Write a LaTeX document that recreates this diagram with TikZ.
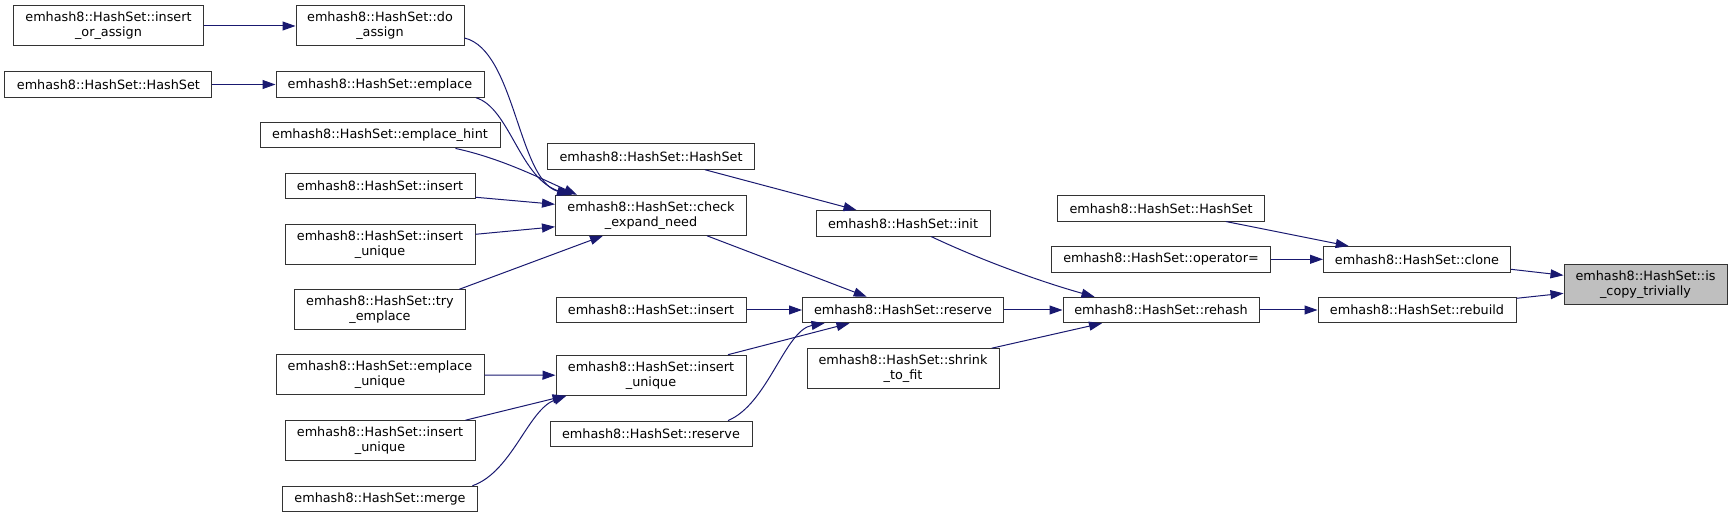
\documentclass[tikz,border=0pt]{standalone}
\usepackage{fontspec}
\setmainfont{DejaVu Sans}
\usepackage{tikz}
\usetikzlibrary{arrows.meta, positioning}
\definecolor{edgeblue}{RGB}{25,25,112}
\definecolor{rootgray}{RGB}{191,191,191}

\begin{document}
\begin{tikzpicture}[
    x=1pt, y=-1pt,
    func/.style={draw=black!80, line width=1pt, rectangle, fill=white, inner sep=0pt, minimum height=25.5pt, align=center, font=\fontsize{12.8}{15}\selectfont},
    func2/.style={func, minimum height=40pt},
    rootfunc/.style={func2, fill=rootgray},
    call/.style={draw=edgeblue, line width=1pt, -{Triangle[length=13pt, width=9pt]}}
]
    \useasboundingbox (0,0) rectangle (1732,518);

    % ================= FIRST COLUMN =================
    \node[func2, minimum width=190pt] (INSOA) at (108.5, 26) {emhash8::HashSet::insert\\\_or\_assign};
    \node[func, minimum width=207pt] (HSA) at (108.4, 84.5) {emhash8::HashSet::HashSet};

    % ================= SECOND COLUMN =================
    \node[func2, minimum width=168pt] (DOASG) at (380, 26) {emhash8::HashSet::do\\\_assign};
    \node[func, minimum width=208pt] (EMPL) at (380, 84.5) {emhash8::HashSet::emplace};
    \node[func, minimum width=240pt] (EMPLH) at (380, 135.2) {emhash8::HashSet::emplace\_hint};
    \node[func, minimum width=190pt] (INSA) at (380, 186) {emhash8::HashSet::insert};
    \node[func2, minimum width=190pt] (INSUA) at (380, 244.3) {emhash8::HashSet::insert\\\_unique};
    \node[func2, minimum width=170.5pt] (TRYEMP) at (380, 309.8) {emhash8::HashSet::try\\\_emplace};
    \node[func2, minimum width=208pt] (EMPLU) at (380, 375) {emhash8::HashSet::emplace\\\_unique};
    \node[func2, minimum width=190pt] (INSUB) at (380, 440.7) {emhash8::HashSet::insert\\\_unique};
    \node[func, minimum width=195pt] (MERGE) at (380, 499) {emhash8::HashSet::merge};

    % ================= THIRD COLUMN =================
    \node[func, minimum width=207pt] (HSB) at (651, 156.5) {emhash8::HashSet::HashSet};
    \node[func2, minimum width=191pt] (CHECK) at (651, 215.3) {emhash8::HashSet::check\\\_expand\_need};
    \node[func, minimum width=190pt] (INSB) at (651, 310) {emhash8::HashSet::insert};
    \node[func2, minimum width=190pt] (INSUC) at (651, 375.2) {emhash8::HashSet::insert\\\_unique};
    \node[func, minimum width=202pt] (RESB) at (651, 433.8) {emhash8::HashSet::reserve};

    % ================= FOURTH COLUMN =================
    \node[func, minimum width=174pt] (INIT) at (903, 223.3) {emhash8::HashSet::init};
    \node[func, minimum width=201pt] (RESA) at (903, 310) {emhash8::HashSet::reserve};
    \node[func2, minimum width=192pt] (SHRINK) at (903, 368.7) {emhash8::HashSet::shrink\\\_to\_fit};

    % ================= FIFTH COLUMN =================
    \node[func, minimum width=207pt] (HSC) at (1161, 208.3) {emhash8::HashSet::HashSet};
    \node[func, minimum width=219pt] (OPASG) at (1161, 259.3) {emhash8::HashSet::operator=};
    \node[func, minimum width=196pt] (REHASH) at (1161, 310) {emhash8::HashSet::rehash};

    % ================= SIXTH COLUMN =================
    \node[func, minimum width=187pt] (CLONE) at (1417, 259.3) {emhash8::HashSet::clone};
    \node[func, minimum width=198pt] (REBUILD) at (1417, 310) {emhash8::HashSet::rebuild};

    % ================= ROOT =================
    \node[rootfunc, minimum width=163pt] (COPYTRIV) at (1645.5, 284.3) {emhash8::HashSet::is\\\_copy\_trivially};

    % ================= CALLS =================

    % into do_assign and emplace
    \draw[call] (INSOA.east) -- (DOASG.west);
    \draw[call] (HSA.east) -- (EMPL.west);

    % into check_expand_need
    \draw[call] ([yshift=-12pt]DOASG.east) .. controls (515,50) and (518,180) .. ([xshift=15pt]CHECK.north west);
    \draw[call] ([xshift=-8.5pt]EMPL.south east) .. controls (510,108) and (520,180) .. ([xshift=17pt]CHECK.north west);
    \draw[call] ([xshift=-45pt]EMPLH.south east) .. controls (500,158) and (540,178) .. ([xshift=22pt]CHECK.north west);
    \draw[call] ([yshift=2pt]INSA.south east) -- ([yshift=11pt]CHECK.west);
    \draw[call] ([yshift=10pt]INSUA.east) -- ([yshift=-11.5pt]CHECK.west);
    \draw[call] ([xshift=-6.5pt]TRYEMP.north east) -- ([xshift=48pt]CHECK.south west);

    % into the middle insert_unique
    \draw[call] (EMPLU.east) -- (INSUC.west);
    \draw[call] ([xshift=-10pt]INSUB.north east) -- ([xshift=10pt]INSUC.south west);
    \draw[call] ([xshift=-5.6pt]MERGE.north east) .. controls (512,472) and (528,410) .. ([xshift=11pt]INSUC.south west);

    % into init and reserve
    \draw[call] ([xshift=-50pt]HSB.south east) -- ([xshift=41pt]INIT.north west);
    \draw[call] ([xshift=-40pt]CHECK.south east) -- ([xshift=64.7pt]RESA.north west);
    \draw[call] (INSB.east) -- (RESA.west);
    \draw[call] ([xshift=-18.5pt]INSUC.north east) -- ([xshift=47.5pt]RESA.south west);
    \draw[call] ([xshift=-24.5pt]RESB.north east) .. controls (768,404) and (785,330) .. ([xshift=22.5pt]RESA.south west);

    % into rehash
    \draw[call] ([xshift=-59.4pt]INIT.south east) .. controls (985,262) and (1045,283) .. ([xshift=32pt]REHASH.north west);
    \draw[call] (RESA.east) -- (REHASH.west);
    \draw[call] ([xshift=-7.7pt]SHRINK.north east) -- ([xshift=39.5pt]REHASH.south west);

    % into clone and rebuild
    \draw[call] ([xshift=-39pt]HSC.south east) -- ([xshift=25.7pt]CLONE.north west);
    \draw[call] (OPASG.east) -- (CLONE.west);
    \draw[call] (REHASH.east) -- (REBUILD.west);

    % into is_copy_trivially
    \draw[call] ([yshift=-10pt]CLONE.east) -- ([yshift=9pt]COPYTRIV.west);
    \draw[call] ([yshift=11.7pt]REBUILD.east) -- ([yshift=-9pt]COPYTRIV.west);

\end{tikzpicture}
\end{document}
